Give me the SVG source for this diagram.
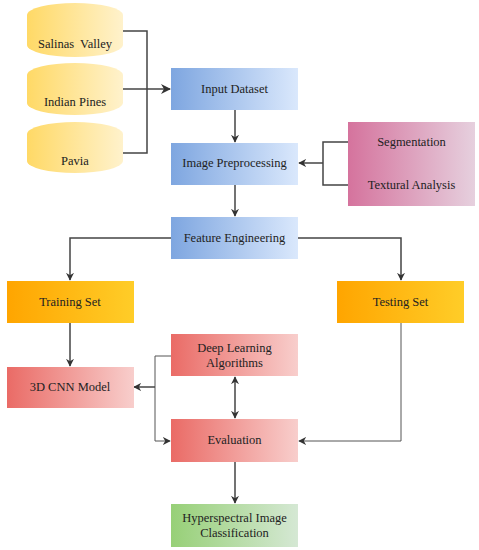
<svg xmlns="http://www.w3.org/2000/svg" width="479" height="550" viewBox="0 0 479 550">
<style>
.c{fill:none;stroke:#444;stroke-width:1.5}
.t{fill:none;stroke:#555;stroke-width:1}
</style>
<defs>
<linearGradient id="gy" x1="0" x2="1" y1="0" y2="0"><stop offset="0" stop-color="#ffd966"/><stop offset="1" stop-color="#fff2cc"/></linearGradient>
<linearGradient id="gb" x1="0" x2="1" y1="0" y2="0"><stop offset="0" stop-color="#7ea6e0"/><stop offset="1" stop-color="#dae8fc"/></linearGradient>
<linearGradient id="gp" x1="0" x2="1" y1="0" y2="0"><stop offset="0" stop-color="#d5739d"/><stop offset="1" stop-color="#e6d0de"/></linearGradient>
<linearGradient id="go" x1="0" x2="1" y1="0" y2="0"><stop offset="0" stop-color="#ffa500"/><stop offset="1" stop-color="#ffcd28"/></linearGradient>
<linearGradient id="gr" x1="0" x2="1" y1="0" y2="0"><stop offset="0" stop-color="#ea6b66"/><stop offset="1" stop-color="#f8cecc"/></linearGradient>
<linearGradient id="gg" x1="0" x2="1" y1="0" y2="0"><stop offset="0" stop-color="#97d077"/><stop offset="1" stop-color="#d5e8d4"/></linearGradient>
<marker id="a" viewBox="0 0 10 10" refX="9" refY="5" markerWidth="8" markerHeight="8" markerUnits="userSpaceOnUse" orient="auto-start-reverse"><path d="M0,0 L10,5 L0,10 L3,5 Z" fill="#333"/></marker>
<marker id="b" viewBox="0 0 10 10" refX="9" refY="5" markerWidth="10" markerHeight="10" markerUnits="userSpaceOnUse" orient="auto-start-reverse"><path d="M0,0 L10,5 L0,10 L3,5 Z" fill="#333"/></marker>
</defs>
<g id="connectors">
<path class="c" d="M123,31 H147 V153 H123"/>
<path class="c" d="M123,89 H170" marker-end="url(#b)"/>
<path class="c" d="M235,110 V142" marker-end="url(#a)"/>
<path class="c" d="M348,142 H323 V185 H348"/>
<path class="c" d="M323,163 H299" marker-end="url(#a)"/>
<path class="c" d="M235,185 V216" marker-end="url(#a)"/>
<path class="c" d="M171,238 H70 V280" marker-end="url(#a)"/>
<path class="c" d="M298,238 H401 V280" marker-end="url(#a)"/>
<path class="c" d="M70,323 V366" marker-end="url(#a)"/>
<path class="t" d="M171,356 H155 V441 H170" marker-end="url(#a)"/>
<path class="c" d="M155,387 H134" marker-end="url(#a)"/>
<path class="c" d="M235,377 V418" marker-start="url(#a)" marker-end="url(#a)"/>
<path class="t" d="M401,323 V441 H299" marker-end="url(#a)"/>
<path class="c" d="M235,462 V503" marker-end="url(#a)"/>
</g>
<g font-family="'Liberation Serif', 'Times New Roman', serif" font-size="12.5" fill="#222" text-anchor="middle" dominant-baseline="central">
<g id="salinas"><path d="M27,15 A48,12 0 0 1 123,15 V45 A48,12 0 0 1 27,45 Z" fill="url(#gy)"/><text x="75" y="44" xml:space="preserve">Salinas  Valley</text></g>
<g id="indian"><path d="M27,75 A48,12 0 0 1 123,75 V103 A48,12 0 0 1 27,103 Z" fill="url(#gy)"/><text x="75" y="102">Indian Pines</text></g>
<g id="pavia"><path d="M27,134 A48,12 0 0 1 123,134 V161 A48,12 0 0 1 27,161 Z" fill="url(#gy)"/><text x="75" y="161">Pavia</text></g>
<g id="input"><rect x="171" y="68" width="127" height="42" fill="url(#gb)"/><text x="234.5" y="89">Input Dataset</text></g>
<g id="preproc"><rect x="171" y="143" width="127" height="42" fill="url(#gb)"/><text x="234.5" y="163">Image Preprocessing</text></g>
<g id="seg"><rect x="348" y="122" width="127" height="84" fill="url(#gp)"/><text x="411.5" y="142">Segmentation</text><text x="411.5" y="185">Textural Analysis</text></g>
<g id="feature"><rect x="171" y="217" width="127" height="42" fill="url(#gb)"/><text x="234.5" y="238">Feature Engineering</text></g>
<g id="training"><rect x="7" y="281" width="127" height="42" fill="url(#go)"/><text x="70" y="302">Training Set</text></g>
<g id="testing"><rect x="337" y="281" width="127" height="42" fill="url(#go)"/><text x="400.5" y="302">Testing Set</text></g>
<g id="cnn"><rect x="7" y="367" width="127" height="41" fill="url(#gr)"/><text x="70" y="387">3D CNN Model</text></g>
<g id="deep"><rect x="171" y="334" width="127" height="42" fill="url(#gr)"/><text x="234.5" y="348">Deep Learning</text><text x="234.5" y="363">Algorithms</text></g>
<g id="eval"><rect x="171" y="419" width="127" height="43" fill="url(#gr)"/><text x="234.5" y="440">Evaluation</text></g>
<g id="hyper"><rect x="171" y="504" width="127" height="43" fill="url(#gg)"/><text x="234.5" y="518">Hyperspectral Image</text><text x="234.5" y="533">Classification</text></g>
</g>
</svg>
